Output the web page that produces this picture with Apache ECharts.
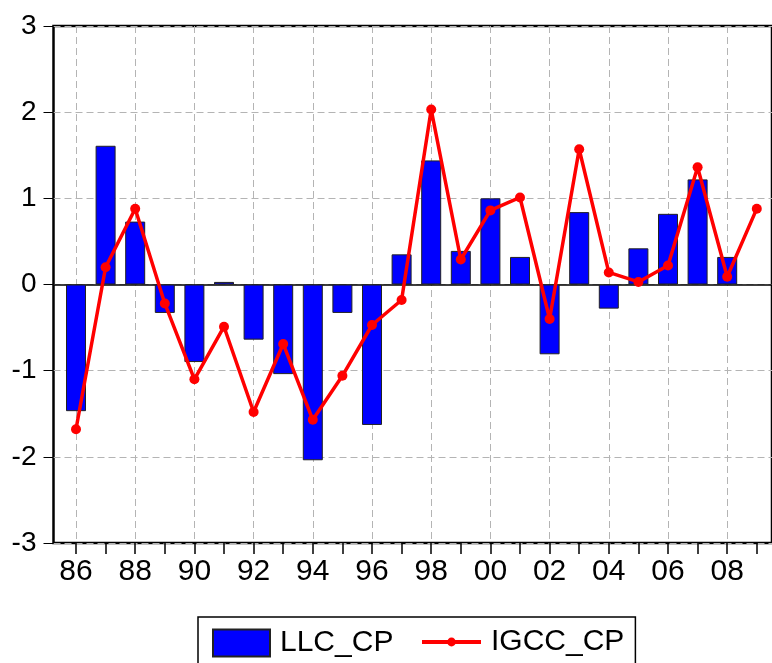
<!DOCTYPE html>
<html>
<head>
<meta charset="utf-8">
<script src="https://cdn.jsdelivr.net/npm/echarts@6/dist/echarts.min.js"></script>
<style>
  html, body { margin: 0; padding: 0; background: #fff; }
  #chart { width: 772px; height: 663px; }
</style>
</head>
<body>
<div id="chart"></div>
<script>
  // 年份
  const years = ['1986', '1987', '1988', '1989', '1990', '1991', '1992', '1993',
    '1994', '1995', '1996', '1997', '1998', '1999', '2000', '2001',
    '2002', '2003', '2004', '2005', '2006', '2007', '2008', '2009']

  // 柱子 LLC_CP（2009 没有）
  const llcCp = [-1.47, 1.61, 0.73, -0.33, -0.90, 0.03, -0.64, -1.04,
    -2.04, -0.33, -1.63, 0.35, 1.44, 0.39, 1.00, 0.32,
    -0.81, 0.84, -0.28, 0.42, 0.82, 1.22, 0.32, null]

  // 折线 IGCC_CP
  const igccCp = [-1.68, 0.20, 0.88, -0.22, -1.10, -0.49, -1.48, -0.69,
    -1.57, -1.06, -0.47, -0.18, 2.03, 0.29, 0.86, 1.01,
    -0.40, 1.57, 0.14, 0.03, 0.22, 1.36, 0.09, 0.88]

  const yMin = -3
  const yMax = 3

  const font = 'Liberation Sans, Arial, sans-serif'
  const gridLine = { color: '#b4b4b4', width: 1, type: [7, 4] }

  const myChart = echarts.init(document.querySelector('#chart'))

  const option = {
    animation: false,
    backgroundColor: '#fff',
    grid: [
      // 外框 + y 轴
      { left: 53.5, right: -3, top: 26, bottom: 120, show: true, borderColor: '#000', borderWidth: 2.5, backgroundColor: 'transparent' },
      // 数据区（第一根柱子左边多留一点）
      { left: 61.2, right: 0.4, top: 26, bottom: 120 }
    ],
    xAxis: [
      {
        // 只用来画 0 线
        gridIndex: 0,
        type: 'value',
        min: 0,
        max: 1,
        axisLine: { show: true, onZero: true, lineStyle: { color: '#000', width: 1.5 } },
        axisTick: { show: false },
        axisLabel: { show: false },
        splitLine: { show: false }
      },
      {
        gridIndex: 1,
        type: 'category',
        data: years,
        boundaryGap: true,
        axisLine: { show: false, onZero: false },
        axisTick: { show: true, interval: 0, alignWithLabel: true, length: 11, lineStyle: { color: '#000', width: 1.5 } },
        axisLabel: {
          interval: 1,
          margin: 14,
          color: '#000',
          fontFamily: font,
          fontSize: 30,
          formatter: v => v.slice(2)
        },
        splitLine: { show: true, interval: 1, alignWithLabel: true, lineStyle: gridLine }
      }
    ],
    yAxis: [
      {
        gridIndex: 0,
        type: 'value',
        min: yMin,
        max: yMax,
        interval: 1,
        axisLine: { show: false, onZero: false },
        axisTick: { show: true, inside: false, length: 10, lineStyle: { color: '#000', width: 1 } },
        axisLabel: { margin: 17, color: '#000', fontFamily: font, fontSize: 28 },
        splitLine: { show: true, lineStyle: gridLine }
      },
      {
        gridIndex: 1,
        type: 'value',
        min: yMin,
        max: yMax,
        interval: 1,
        show: false,
        splitLine: { show: false }
      }
    ],
    legend: [
      {
        data: [{ name: 'LLC_CP', icon: 'rect' }],
        left: 198,
        top: 617,
        orient: 'horizontal',
        itemWidth: 57,
        itemHeight: 27,
        padding: [11, 242, 30, 14],
        borderColor: '#000',
        borderWidth: 1.5,
        textStyle: { color: '#000', fontFamily: font, fontSize: 30, padding: [0, 0, 0, 5] }
      },
      {
        data: ['IGCC_CP'],
        left: 420,
        top: 627,
        itemWidth: 59,
        itemHeight: 11,
        padding: 0,
        lineStyle: { width: 4 },
        textStyle: { color: '#000', fontFamily: font, fontSize: 30, padding: [0, 0, 0, 5] }
      }
    ],
    series: [
      {
        name: 'LLC_CP',
        type: 'bar',
        xAxisIndex: 1,
        yAxisIndex: 1,
        data: llcCp,
        barWidth: 20,
        itemStyle: { color: '#0000ff', borderColor: '#222', borderWidth: 1 }
      },
      {
        name: 'IGCC_CP',
        type: 'line',
        xAxisIndex: 1,
        yAxisIndex: 1,
        data: igccCp,
        symbol: 'circle',
        symbolSize: 10,
        showAllSymbol: true,
        itemStyle: { color: '#ff0000' },
        lineStyle: { color: '#ff0000', width: 3.5 },
        z: 5
      }
    ]
  }

  myChart.setOption(option)
</script>
</body>
</html>
